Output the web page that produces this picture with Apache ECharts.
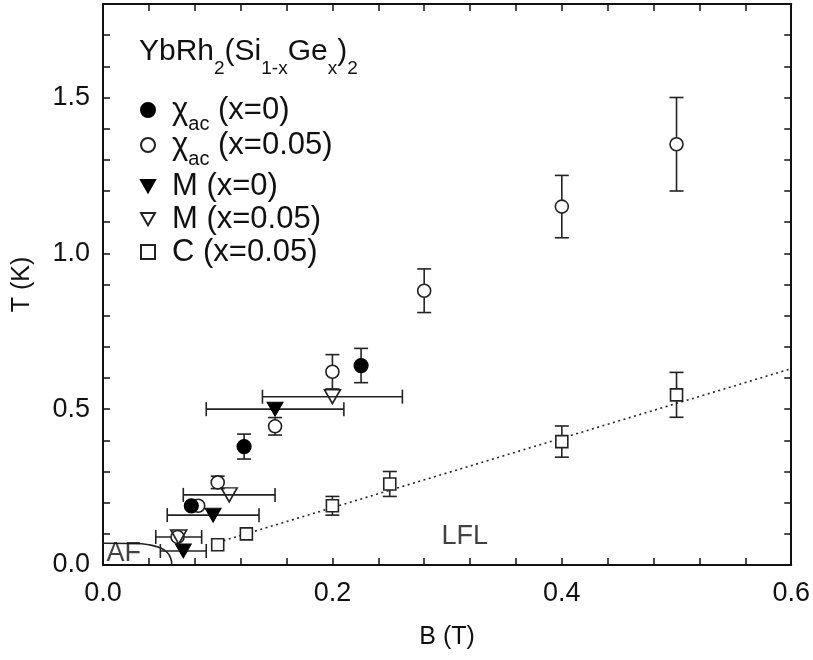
<!DOCTYPE html>
<html>
<head>
<meta charset="utf-8">
<script src="https://cdn.jsdelivr.net/npm/echarts@6/dist/echarts.min.js"></script>
<style>
  html, body { margin: 0; padding: 0; background: #fff; }
  #chart { width: 813px; height: 660px; }
</style>
</head>
<body>
<div id="chart"></div>
<script>
// Phase diagram of YbRh2(Si1-xGex)2: each point is [B (T), T (K), error in B, error in T]
const chiAcX0   = [[0.077, 0.19, 0, 0], [0.123, 0.38, 0, 0.04], [0.225, 0.64, 0, 0.055]];
const chiAcX005 = [[0.065, 0.09, 0, 0], [0.083, 0.19, 0, 0], [0.1, 0.265, 0, 0.02], [0.15, 0.445, 0, 0.028],
                   [0.2, 0.62, 0, 0.055], [0.28, 0.88, 0, 0.07], [0.4, 1.15, 0, 0.1], [0.5, 1.35, 0, 0.15]];
const mX0       = [[0.07, 0.045, 0.02, 0], [0.096, 0.16, 0.04, 0], [0.15, 0.5, 0.06, 0]];
const mX005     = [[0.066, 0.09, 0.02, 0], [0.11, 0.225, 0.04, 0], [0.2, 0.54, 0.061, 0]];
const cX005     = [[0.1, 0.065, 0, 0], [0.125, 0.1, 0, 0], [0.2, 0.19, 0, 0.03], [0.25, 0.26, 0, 0.04],
                   [0.4, 0.396, 0, 0.05], [0.5, 0.546, 0, 0.072]];

// Linear T(B) guide through the specific-heat points
const lflLine = [[0.105, 0.078], [0.6, 0.63]];
// Antiferromagnetic phase boundary
const afBoundary = [[0.0, 0.07], [0.025, 0.069], [0.04, 0.065], [0.05, 0.055], [0.056, 0.04], [0.059, 0.022], [0.06, 0.0]];

// Region labels
const regionLabels = [{ text: 'AF', B: 0.003, T: 0.036 }, { text: 'LFL', B: 0.295, T: 0.09 }];

const xTicks = { min: 0, max: 0.6, interval: 0.2, minorSplit: 5, labelStep: 0.2 };
const yTicks = { min: 0, max: 1.8, interval: 0.5, minorSplit: 5, labelStep: 0.5 };

const seriesNames = ['chi_x0', 'chi_x005', 'M_x0', 'M_x005', 'C_x005'];
const legendText = {
  chi_x0:   '{g|χ}{s|ac}{t| (x=0)}',
  chi_x005: '{g|χ}{s|ac}{t| (x=0.05)}',
  M_x0:     '{g|M}{t| (x=0)}',
  M_x005:   '{g|M}{t| (x=0.05)}',
  C_x005:   '{g|C}{t| (x=0.05)}'
};
const legendRowCenters = [111, 146, 187, 220, 253];

const FONT = '"Liberation Sans", Arial, Helvetica, sans-serif';
const INK = '#111';
const downTri = 'path://M0,0 L16,0 L8,14 Z';
const legendIcons = { chi_x0: 'circle', chi_x005: 'circle', M_x0: downTri, M_x005: downTri, C_x005: 'rect' };

const chart = echarts.init(document.getElementById('chart'), null, { renderer: 'canvas' });

const allErrors = [].concat(chiAcX0, chiAcX005, mX0, mX005, cX005);

function errorBarItem(params, api) {
  const b = api.value(0), t = api.value(1), db = api.value(2), dt = api.value(3);
  const cap = 7;
  const children = [];
  const style = { stroke: '#222', lineWidth: 1.6 };
  if (dt > 0) {
    const top = api.coord([b, t + dt]);
    const bot = api.coord([b, t - dt]);
    children.push({ type: 'line', shape: { x1: top[0], y1: top[1], x2: bot[0], y2: bot[1] }, style });
    children.push({ type: 'line', shape: { x1: top[0] - cap, y1: top[1], x2: top[0] + cap, y2: top[1] }, style });
    children.push({ type: 'line', shape: { x1: bot[0] - cap, y1: bot[1], x2: bot[0] + cap, y2: bot[1] }, style });
  }
  if (db > 0) {
    const l = api.coord([b - db, t]);
    const r = api.coord([b + db, t]);
    children.push({ type: 'line', shape: { x1: l[0], y1: l[1], x2: r[0], y2: r[1] }, style });
    children.push({ type: 'line', shape: { x1: l[0], y1: l[1] - cap, x2: l[0], y2: l[1] + cap }, style });
    children.push({ type: 'line', shape: { x1: r[0], y1: r[1] - cap, x2: r[0], y2: r[1] + cap }, style });
  }
  return { type: 'group', children };
}

function stepLabel(step) {
  return v => (Math.abs(v / step - Math.round(v / step)) < 1e-6 ? v.toFixed(1) : '');
}

const axisCommon = {
  type: 'value',
  axisLine: { show: true, onZero: false, lineStyle: { color: INK, width: 2 } },
  axisTick: { show: true, inside: true, length: 7, lineStyle: { color: INK, width: 1.5 } },
  minorTick: { show: true, length: 7, lineStyle: { color: INK, width: 1.5 } },
  splitLine: { show: false },
  minorSplitLine: { show: false }
};

function makeAxis(ticks, extra) {
  return Object.assign({}, axisCommon, {
    min: ticks.min, max: ticks.max, interval: ticks.interval,
    minorTick: Object.assign({}, axisCommon.minorTick, { splitNumber: ticks.minorSplit })
  }, extra);
}

const legends = seriesNames.map((name, i) => ({
  orient: 'horizontal',
  left: 140, top: legendRowCenters[i] - 16,
  padding: 0,
  itemWidth: 14, itemHeight: 14,
  data: [{ name, icon: legendIcons[name] }],
  selectedMode: false,
  formatter: n => legendText[n],
  textStyle: {
    rich: {
      g: { fontFamily: FONT, fontSize: 31, color: INK, padding: [0, 0, 0, 12], verticalAlign: 'bottom', lineHeight: 32 },
      s: { fontFamily: FONT, fontSize: 20, color: INK, verticalAlign: 'bottom', lineHeight: 32, padding: [0, 0, -8, 0] },
      t: { fontFamily: FONT, fontSize: 31, color: INK, verticalAlign: 'bottom', lineHeight: 32 }
    }
  }
}));

const option = {
  animation: false,
  backgroundColor: '#fff',
  textStyle: { fontFamily: FONT },
  grid: { left: 103, right: 20, top: 4, bottom: 95, containLabel: false },
  title: {
    left: 134, top: 26,
    text: '{m|YbRh}{s|2}{m|(Si}{s|1-x}{m|Ge}{s|x}{m|)}{s|2}',
    textStyle: {
      fontWeight: 'normal',
      rich: {
        m: { fontFamily: FONT, fontSize: 30, fontWeight: 'normal', color: INK, verticalAlign: 'bottom', lineHeight: 36 },
        s: { fontFamily: FONT, fontSize: 19, fontWeight: 'normal', color: INK, verticalAlign: 'bottom', lineHeight: 36, padding: [0, 0, -11, 0] }
      }
    }
  },
  legend: legends,
  xAxis: [
    makeAxis(xTicks, {
      position: 'bottom',
      name: 'B (T)', nameLocation: 'middle', nameGap: 60,
      nameTextStyle: { fontFamily: FONT, fontSize: 25, color: INK },
      axisLabel: { fontFamily: FONT, fontSize: 27, color: INK, margin: 15, formatter: stepLabel(xTicks.labelStep) }
    }),
    makeAxis(xTicks, { position: 'top', axisLabel: { show: false } })
  ],
  yAxis: [
    makeAxis(yTicks, {
      position: 'left',
      name: 'T (K)', nameLocation: 'middle', nameGap: 68,
      nameTextStyle: { fontFamily: FONT, fontSize: 25, color: INK },
      axisLabel: { fontFamily: FONT, fontSize: 27, color: INK, margin: 13, showMaxLabel: false, formatter: stepLabel(yTicks.labelStep) }
    }),
    makeAxis(yTicks, { position: 'right', axisLabel: { show: false } })
  ],
  series: [
    {
      name: 'lfl', type: 'line', data: lflLine, showSymbol: false, symbol: 'none',
      lineStyle: { color: '#222', width: 1.6, type: [2, 3.5] }, z: 1, silent: true
    },
    {
      name: 'af', type: 'line', data: afBoundary, showSymbol: false, symbol: 'none', smooth: 0.5,
      lineStyle: { color: '#222', width: 1.6 }, z: 1, silent: true
    },
    {
      name: 'errors', type: 'custom', data: allErrors, renderItem: errorBarItem,
      encode: { x: 0, y: 1 }, z: 2, silent: true
    },
    {
      name: 'regions', type: 'scatter', symbolSize: 0, z: 2, silent: true,
      data: regionLabels.map(r => ({ value: [r.B, r.T], label: { formatter: r.text } })),
      label: { show: true, position: 'right', distance: 0, fontFamily: FONT, fontSize: 27, color: INK }
    },
    {
      name: 'chi_x0', type: 'scatter', data: chiAcX0, symbol: 'circle', symbolSize: 14, z: 5,
      itemStyle: { color: '#000', borderColor: '#000', borderWidth: 1.2, opacity: 1 }
    },
    {
      name: 'chi_x005', type: 'scatter', data: chiAcX005, symbol: 'circle', symbolSize: 13, z: 4,
      itemStyle: { color: '#fff', borderColor: '#222', borderWidth: 1.6, opacity: 1 }
    },
    {
      name: 'M_x0', type: 'scatter', data: mX0, symbol: downTri, symbolSize: [16, 14], z: 5,
      itemStyle: { color: '#000', borderColor: '#000', borderWidth: 1, opacity: 1 }
    },
    {
      name: 'M_x005', type: 'scatter', data: mX005, symbol: downTri, symbolSize: [16, 14], z: 5,
      itemStyle: { color: 'rgba(255,255,255,0)', borderColor: '#222', borderWidth: 1.6, opacity: 1 }
    },
    {
      name: 'C_x005', type: 'scatter', data: cX005, symbol: 'rect', symbolSize: 12, z: 4,
      itemStyle: { color: '#fff', borderColor: '#222', borderWidth: 1.6, opacity: 1 }
    }
  ]
};

chart.setOption(option);
</script>
</body>
</html>
